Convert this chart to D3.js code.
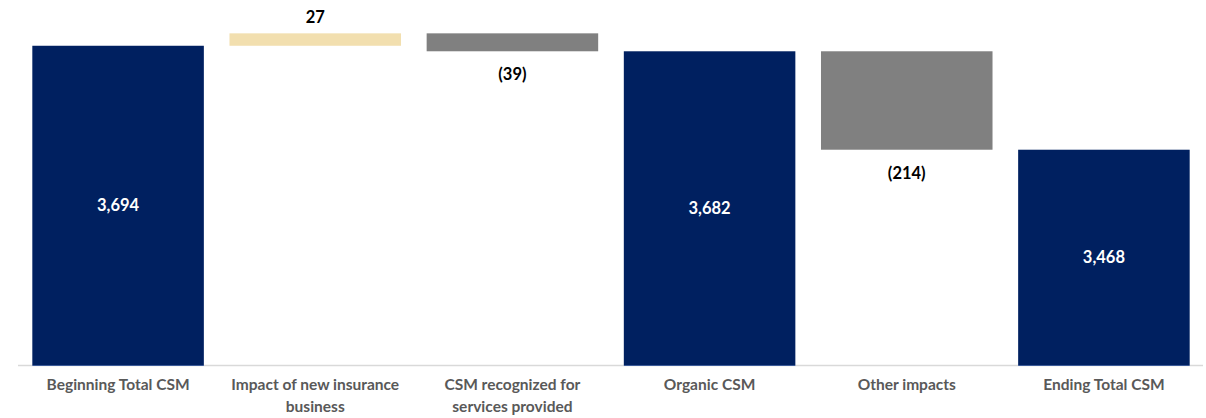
<!DOCTYPE html>
<html>
<head>
<meta charset="utf-8">
<script src="https://cdn.jsdelivr.net/npm/d3@7"></script>
<style>
  body { margin: 0; background: #fff; }
  svg { display: block; font-family: Lato, "Open Sans", sans-serif; }
</style>
</head>
<body>
<script>
// waterfall data
const categories = [
    ["Beginning Total CSM"],
    ["Impact of new insurance", "business"],
    ["CSM recognized for", "services provided"],
    ["Organic CSM"],
    ["Other impacts"],
    ["Ending Total CSM"]
];
const values = [3694, 27, -39, 3682, -214, 3468];
const kinds = ["total", "delta", "delta", "total", "delta", "total"];
const labels = ["3,694", "27", "(39)", "3,682", "(214)", "3,468"];

const width = 1206, height = 418;
const baseY = 365;

const svg = d3.select("body").append("svg")
    .attr("width", width)
    .attr("height", height);

const x = d3.scaleBand()
    .domain(d3.range(categories.length))
    .range([19.5, 1202.5])
    .paddingInner(0.13)
    .paddingOuter(0.065);

const y = d3.scaleLinear()
    .domain([3000, 3800])
    .range([baseY, -3]);

// work out start / end of each step
let running = 0;
const steps = values.map((v, i) => {
    let start, end;
    if (kinds[i] === "total") {
        start = 3000; end = v; running = v;
    } else {
        start = running; end = running + v; running = end;
    }
    return {i, v, kind: kinds[i], start, end, label: labels[i]};
});

function colorOf(d) {
    if (d.kind === "total") return "#002060";
    return d.v >= 0 ? "#F2DFAF" : "#808080";
}

// baseline
svg.append("line")
    .attr("x1", 18).attr("x2", 1203)
    .attr("y1", baseY + 0.5).attr("y2", baseY + 0.5)
    .attr("stroke", "#d9d9d9")
    .attr("stroke-width", 1.5);

svg.selectAll("rect.bar")
    .data(steps)
    .join("rect")
    .attr("class", "bar")
    .attr("x", d => x(d.i))
    .attr("width", x.bandwidth())
    .attr("y", d => y(Math.max(d.start, d.end)))
    .attr("height", d => Math.abs(y(d.start) - y(d.end)))
    .attr("fill", colorOf);

// thin lighter edge at the foot of the total bars
svg.selectAll("line.foot")
    .data(steps.filter(d => d.kind === "total"))
    .join("line")
    .attr("class", "foot")
    .attr("x1", d => x(d.i)).attr("x2", d => x(d.i) + x.bandwidth())
    .attr("y1", baseY + 0.5).attr("y2", baseY + 0.5)
    .attr("stroke", "#3b5a99")
    .attr("stroke-width", 1);

// value labels
svg.selectAll("text.val")
    .data(steps)
    .join("text")
    .attr("class", "val")
    .attr("x", d => x(d.i) + x.bandwidth() / 2)
    .attr("y", d => {
        if (d.kind === "total") return (y(d.end) + baseY) / 2 + 6;
        if (d.v >= 0) return y(d.end) - 10;
        return y(d.end) + 29;
    })
    .attr("text-anchor", "middle")
    .attr("font-size", 16.5)
    .attr("font-weight", "bold")
    .attr("fill", d => d.kind === "total" ? "#fff" : "#000")
    .text(d => d.label);

// category labels
const cat = svg.selectAll("text.cat")
    .data(categories)
    .join("text")
    .attr("class", "cat")
    .attr("text-anchor", "middle")
    .attr("font-size", 15.5)
    .attr("font-weight", "bold")
    .attr("fill", "#595959");

cat.selectAll("tspan")
    .data((d, i) => d.map(t => ({t, i})))
    .join("tspan")
    .attr("x", d => x(d.i) + x.bandwidth() / 2)
    .attr("y", (d, j) => 390 + j * 22)
    .text(d => d.t);
</script>
</body>
</html>
